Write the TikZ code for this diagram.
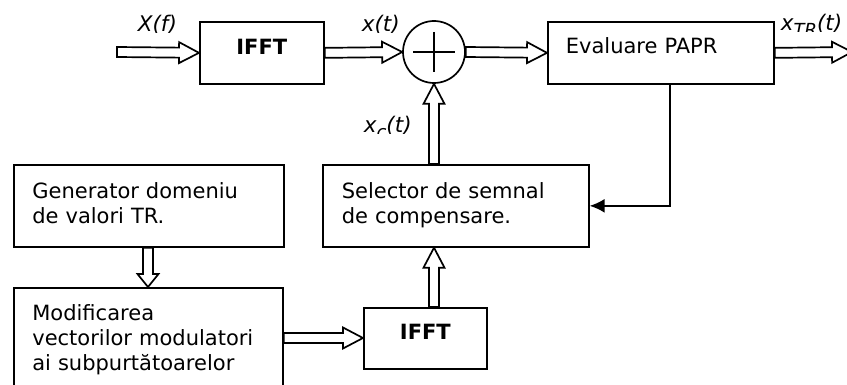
\documentclass[tikz,border=0pt]{standalone}
\usepackage{fontspec}
\setmainfont{DejaVu Sans}[ItalicFont={DejaVu Sans Oblique},BoldFont={DejaVu Sans Bold},BoldItalicFont={DejaVu Sans Bold Oblique}]
\usetikzlibrary{calc,arrows.meta}
\newcommand\mysub[1]{\raisebox{-6pt}{\fontsize{18}{18}\selectfont #1}}
\begin{document}
\begin{tikzpicture}[x=1pt,y=-1pt,line width=1.7pt,
  every node/.style={font=\fontsize{21}{25}\selectfont},
  box/.style={draw,rectangle,anchor=north west,inner ysep=0pt},
  bbox/.style={box,font=\fontsize{21}{25}\selectfont\bfseries,text height=15.5pt,text depth=13pt,inner xsep=0pt},
  tbox/.style={box,align=left},
  lbl/.style={inner sep=0pt,anchor=base west,font=\fontsize{21.5}{25}\selectfont\itshape},
  barrow/.style={to path={let \p1=(\tikztostart),\p2=(\tikztotarget),\n1={atan2(\y2-\y1,\x2-\x1)} in
    ($(\p1)+(\n1+90:5pt)$) -- ($(\p2)+(\n1+180:#1)+(\n1+90:5pt)$) -- ($(\p2)+(\n1+180:#1)+(\n1+90:10.5pt)$) -- (\p2)
    -- ($(\p2)+(\n1+180:#1)+(\n1-90:10.5pt)$) -- ($(\p2)+(\n1+180:#1)+(\n1-90:5pt)$) -- ($(\p1)+(\n1-90:5pt)$) -- cycle}},
  barrow/.default=20pt,
  fbarrow/.style={-{Latex[length=15pt,width=14pt]}}]
\path[use as bounding box,fill=white] (0,0) rectangle (847,385);

% boxes
\node[bbox,minimum width=124pt,minimum height=62pt] (ifft1) at (199,21) {IFFT};
\node[draw,circle,minimum size=62pt,inner sep=0pt] (sum) at (434,52) {};
\draw ($(sum.center)+(-21,0)$) -- ($(sum.center)+(21,0)$);
\draw ($(sum.center)+(0,-20)$) -- ($(sum.center)+(0,20)$);
\node[tbox,minimum height=62pt,inner xsep=18pt,text width=190pt,text height=16pt,text depth=14pt] (eval) at (547,21) {Evaluare PAPR};
\node[tbox,minimum height=82pt,inner xsep=19pt,text width=228pt] (sel) at (322,164) {\strut Selector de semnal\\de compensare.\strut};
\node[tbox,minimum height=82pt,inner xsep=18.5pt,text width=233pt] (gen) at (13,164) {\strut Generator domeniu\\de valori TR.\strut};
\node[tbox,minimum height=106pt,inner xsep=18.5pt,text width=232pt] (mod) at (13,287) {\strut Modificarea\\vectorilor modulatori\\ai subpurtătoarelor\strut};
\node[bbox,minimum width=123pt,minimum height=61pt] (ifft2) at (363,307) {IFFT};

% coordinates
\coordinate (in) at (117,52);
\coordinate (out) at (852,52);
\coordinate (a1) at (sel.north -| sum.south);
\coordinate (a2) at (ifft2.north -| sum.south);
\coordinate (a2t) at (sel.south -| sum.south);
\coordinate (g1) at ($(gen.south west)+(135,0)$);
\coordinate (g2) at (g1 |- mod.north);
\coordinate (m1) at ($(mod.north east)+(0,51)$);
\coordinate (m2) at (m1 -| ifft2.west);
\coordinate (fb) at (670,0);

% connectors
\draw[barrow] (in) to (ifft1.west);
\draw[barrow] (ifft1.east) to (sum.west);
\draw[barrow] (sum.east) to (eval.west);
\draw[barrow] (eval.east) to (out);
\draw[barrow] (a1) to (sum.south);
\draw[barrow] (a2) to (a2t);
\draw[barrow=13pt] (g1) to (g2);
\draw[barrow] (m1) to (m2);
\draw[fbarrow] (eval.south -| fb) |- (sel.east);

% labels
\begin{scope}
\clip (100,0) rectangle (420,33) (770,0) rectangle (860,32) (340,100) rectangle (420,134);
\node[lbl] (lX) at (137,32) {X(f)};
\node[lbl] (lx) at (361,32) {x(t)};
\node[lbl] (lxtr) at (780,31) {x\mysub{TR}(t)};
\node[lbl] (lxc) at (363,133) {x\mysub{c}(t)};
\end{scope}
\end{tikzpicture}
\end{document}
